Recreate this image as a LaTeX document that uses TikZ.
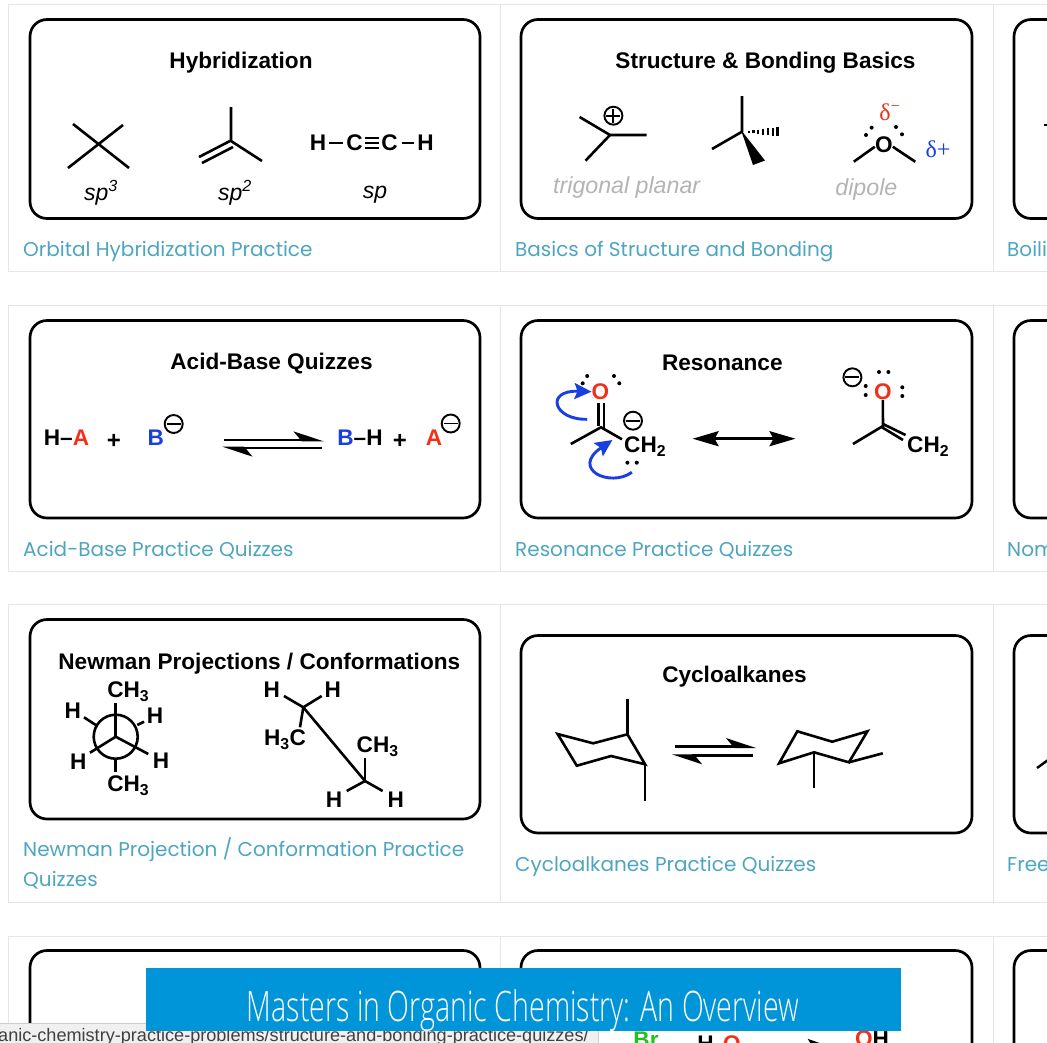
\documentclass[tikz,border=0pt]{standalone}
\usepackage{fontspec}
\setmainfont{Liberation Sans}
\newfontfamily\linkfont{Poppins}
\newfontfamily\greekfont{Liberation Serif}
\newfontfamily\bannerfont[FakeStretch=0.68]{Open Sans Light}
\usetikzlibrary{arrows.meta, positioning, calc}
\definecolor{cardline}{HTML}{E6E6E6}
\definecolor{linkblue}{HTML}{4DA5BF}
\definecolor{bannerblue}{HTML}{0094D8}
\definecolor{atomred}{HTML}{F0301A}
\definecolor{atomblue}{HTML}{1A3FE0}
\definecolor{atomgreen}{HTML}{22C020}
\definecolor{softgray}{HTML}{B4B4B4}
\tikzset{
  card/.style={draw=cardline, line width=0.9pt},
  quizbox/.style={draw=black, line width=2.7pt, rounded corners=17pt, fill=white},
  boxtitle/.style={font=\fontsize{22.6}{24}\selectfont\bfseries, inner sep=0},
  cardlink/.style={font=\linkfont\fontsize{20}{24}\selectfont, text=linkblue, anchor=base west, inner sep=0},
  atom/.style={font=\fontsize{22.6}{24}\selectfont\bfseries, inner sep=0},
  hybrid/.style={font=\fontsize{23}{24}\selectfont\itshape, inner sep=0},
  softtext/.style={font=\fontsize{23.2}{24}\selectfont\itshape, text=softgray, inner sep=0},
  bond/.style={line width=2.6pt},
  charge/.style={circle, draw=black, line width=1.9pt, minimum size=18pt, inner sep=0},
  chargebar/.style={line width=1.9pt},
  pairdot/.style={circle, fill=black, minimum size=4pt, inner sep=0},
  halfarrow/.style={line width=2.8pt, -{Stealth[harpoon, length=26pt, width=17pt, inset=7pt]}},
  pusharrow/.style={line width=2.9pt, draw=atomblue, -{Stealth[length=17pt, width=16pt, inset=3pt]}}
}
\begin{document}
\begin{tikzpicture}[x=1pt, y=-1pt]
\useasboundingbox (0,0) rectangle (1047,1042);
\clip (0,0) rectangle (1047,1042);

% Cards behind the boxes
\foreach \top/\bot in {4/271, 305/571, 604/902, 936/1100} {
  \draw[card] (1100,\top) -- (8,\top) -- (8,\bot) -- (1100,\bot);
  \draw[card] (500,\top) -- (500,\bot);
  \draw[card] (993,\top) -- (993,\bot);
}

% Rounded boxes
\foreach \xa/\xb in {30/480, 521/972, 1014/1465} {
  \draw[quizbox] (\xa,19.5) rectangle (\xb,218.5);
  \draw[quizbox] (\xa,320.5) rectangle (\xb,518);
  \draw[quizbox] (\xa,950.5) rectangle (\xb,1200);
}
\draw[quizbox] (30,619.5) rectangle (480,819);
\draw[quizbox] (521,635.5) rectangle (972,833);
\draw[quizbox] (1014,635.5) rectangle (1465,833);

% Titles
\node[boxtitle] (hybtitle) at (241,63) {Hybridization};
\node[boxtitle] (basictitle) at (765.5,63) {Structure \& Bonding Basics};
\node[boxtitle] (acidtitle) at (271.5,363.5) {Acid-Base Quizzes};
\node[boxtitle] (restitle) at (722.3,362.5) {Resonance};
\node[boxtitle] (newtitle) at (259.3,663.2) {Newman Projections / Conformations};
\node[boxtitle] (cyctitle) at (734.5,676.5) {Cycloalkanes};

% Links under the boxes
\node[cardlink] (hyblink) at (23,256) {Orbital Hybridization Practice};
\node[cardlink] (basiclink) at (515,256) {Basics of Structure and Bonding};
\node[cardlink] (boillink) at (1007,256) {Boili};
\node[cardlink] (acidlink) at (23,556) {Acid-Base Practice Quizzes};
\node[cardlink] (reslink) at (515,556) {Resonance Practice Quizzes};
\node[cardlink] (nomlink) at (1007,556) {Nom};
\node[cardlink] (newlink) at (23,856) {Newman Projection / Conformation Practice};
\node[cardlink] (newlinkb) at (23,886) {Quizzes};
\node[cardlink] (cyclink) at (515,871.5) {Cycloalkanes Practice Quizzes};
\node[cardlink] (freelink) at (1007,871.5) {Free};

% Hybridization
\draw[bond] (73,124) -- (129,168);
\draw[bond] (123,125) -- (68,168);
\draw[bond] (231,107) -- (231,141) -- (262,161);
\draw[bond] (230,141) -- (199,157);
\draw[bond] (233,147) -- (202,163);
\node[atom] (ha) at (318,143) {H};
\node[atom] (ca) at (354.5,143) {C};
\node[atom] (cb) at (389.5,143) {C};
\node[atom] (hb) at (425.5,143) {H};
\draw[bond] (ha.east) ++(3,0) -- ($(ca.west)+(-3,0)$);
\draw[bond] (cb.east) ++(4,0) -- ($(hb.west)+(-3,0)$);
\foreach \d in {-5,0,5}
  \draw[line width=2.2pt] ($(ca.east)+(2.5,\d)$) -- ($(cb.west)+(-2.5,\d)$);
\node[hybrid] (spthree) at (101,193) {sp\textsuperscript{3}};
\node[hybrid] (sptwo) at (235,193) {sp\textsuperscript{2}};
\node[hybrid] (spone) at (375,195) {sp};

% Structure and bonding
\draw[bond] (579.6,117) -- (610,135) -- (646.5,135);
\draw[bond] (610,135) -- (585.5,160.7);
\node[charge] (plus) at (613.4,115.7) {};
\draw[chargebar] (plus.west) ++(3,0) -- ($(plus.east)+(-3,0)$);
\draw[chargebar] (plus.north) ++(0,3) -- ($(plus.south)+(0,-3)$);
\node[softtext] (planar) at (626.7,187.5) {trigonal planar};
\draw[bond] (742,96) -- (742,131.7) -- (712,149);
\fill (741,130) -- (765,160.5) -- (753,165) -- cycle;
\foreach \x/\h in {749/1, 753.5/1.5, 758/2, 763/3, 768/3.5, 773/4, 777.5/4.5}
  \draw[line width=2.2pt] (\x,131.7-\h) -- (\x,131.7+\h);
\node[atom] (oxa) at (883.8,144.3) {O};
\draw[bond] (853.8,161.7) -- (oxa.195);
\draw[bond] (915.2,161.7) -- (oxa.-15);
\foreach \x/\y in {871.6/127.7, 866/135, 896/127, 902/134.3}
  \node[pairdot] at (\x,\y) {};
\node[font=\greekfont\fontsize{24}{24}\selectfont, text=atomred, inner sep=0] (delneg) at (890,112) {δ\textsuperscript{−}};
\node[font=\greekfont\fontsize{24}{24}\selectfont, text=atomblue, inner sep=0] (delpos) at (938,149) {δ+};
\node[softtext] (dipole) at (866.4,189.5) {dipole};
\draw[line width=2.4pt] (1044,125) -- (1048,125);

% Acid and base
\node[atom] (hacid) at (66.5,438) {H--\textcolor{atomred}{A}};
\node[atom, font=\fontsize{24}{24}\selectfont\bfseries] (plusa) at (114,441) {+};
\node[atom, text=atomblue] (base) at (155.7,438) {B};
\node[charge] (baseq) at (173.7,424) {};
\draw[chargebar] (baseq.west) ++(3,0) -- ($(baseq.east)+(-3,0)$);
\coordinate (aone) at (224,440);
\coordinate (atwo) at (324,440);
\coordinate (athree) at (322,448);
\coordinate (afour) at (222,448);
\draw[halfarrow] (aone) -- (atwo);
\draw[halfarrow] (athree) -- (afour);
\node[atom] (bh) at (360,438) {\textcolor{atomblue}{B}--H};
\node[atom, font=\fontsize{24}{24}\selectfont\bfseries] (plusb) at (400,441) {+};
\node[atom, text=atomred] (anion) at (434,438) {A};
\node[charge] (anionq) at (450.7,423.5) {};
\draw[chargebar] (anionq.west) ++(3,0) -- ($(anionq.east)+(-3,0)$);

% Resonance
\node[atom, text=atomred] (oxb) at (600.5,391.7) {O};
\draw[bond] (598.2,403) -- (598.2,426);
\draw[bond] (604,403) -- (604,428);
\draw[bond] (570.8,444) -- (601,427.3) -- (622,439.3);
\node[atom, anchor=west] (chb) at (624,447) {CH\textsubscript{2}};
\node[charge] (minb) at (633,420.7) {};
\draw[chargebar] (minb.west) ++(3,0) -- ($(minb.east)+(-3,0)$);
\foreach \x/\y in {587.2/376, 582.7/383.3, 614/376, 619.3/383.3, 627.4/462.7, 636.8/462.7}
  \node[pairdot] at (\x,\y) {};
\coordinate (pushatip) at (591.5,391.7);
\draw[pusharrow] (587.2,419.3) .. controls (553,420) and (545,390) .. (pushatip);
\coordinate (pushbtip) at (612.4,440);
\draw[pusharrow] (631.9,472.3) .. controls (610,488) and (570,469) .. (pushbtip);
\coordinate (resa) at (692.6,438.7);
\coordinate (resb) at (795.5,438.7);
\draw[line width=2.6pt, {Stealth[length=26pt, width=15pt, inset=4pt]}-{Stealth[length=26pt, width=15pt, inset=4pt]}] (resa) -- (resb);
\node[atom, text=atomred] (oxc) at (882.8,391.7) {O};
\draw[bond] (oxc.south) -- (883,426) -- (853,444);
\draw[bond] (883,424) -- (905.5,435);
\draw[bond] (882,427.3) -- (903,440);
\node[atom, anchor=west] (chc) at (907,447) {CH\textsubscript{2}};
\node[charge] (minc) at (852.4,377.3) {};
\draw[chargebar] (minc.west) ++(3,0) -- ($(minc.east)+(-3,0)$);
\foreach \x/\y in {879/372, 888.4/372, 865.7/386, 865.7/395, 902.3/387.3, 902.3/396}
  \node[pairdot] at (\x,\y) {};

% Newman projection
\node[atom] (nmethyla) at (128.3,691.7) {CH\textsubscript{3}};
\node[atom] (nmethylb) at (128.3,785.7) {CH\textsubscript{3}};
\node[atom] (nha) at (72.7,711) {H};
\node[atom] (nhb) at (155,715.7) {H};
\node[atom] (nhc) at (78.3,761.7) {H};
\node[atom] (nhd) at (161,761) {H};
\node[circle, draw=black, line width=2.6pt, minimum size=44pt, inner sep=0] (front) at (115.7,736.7) {};
\draw[bond] (115.7,702.7) -- (front.center);
\draw[bond] (front.center) -- (90,752.7);
\draw[bond] (front.center) -- (148.3,754);
\draw[bond] (84,717.3) -- (97.3,726);
\draw[bond] (137.3,725) -- (144,721.7);
\draw[bond] (115.7,759.3) -- (115.7,771.7);

% Sawhorse
\coordinate (sawa) at (303.3,707.3);
\coordinate (sawb) at (365,781);
\node[atom] (sha) at (271.7,689.3) {H};
\node[atom] (shb) at (332.7,689.3) {H};
\node[atom] (shc) at (285,740) {H\textsubscript{3}C};
\node[atom] (shd) at (377.7,746.7) {CH\textsubscript{3}};
\node[atom] (she) at (334,799.3) {H};
\node[atom] (shf) at (395.7,799.3) {H};
\draw[bond] (sawa) -- (sawb);
\draw[bond] (284,696) -- (sawa) -- (321.7,696);
\draw[bond] (sawa) -- (300,727.3);
\draw[bond] (365,758.3) -- (sawb);
\draw[bond] (346.7,791) -- (sawb) -- (382.7,791);

% Cycloalkanes
\draw[bond] (557.6,734) -- (593.2,743.3) -- (627.4,734.3) -- (645.1,764.3) -- (611,756) -- (576.8,765.7) -- cycle;
\draw[bond] (627.4,734.3) -- (627.4,699.3);
\draw[bond] (645.1,764.3) -- (645.1,800.7);
\coordinate (cyca) at (675.2,746.7);
\coordinate (cycb) at (756.5,746.7);
\coordinate (cycc) at (753,755.7);
\coordinate (cycd) at (671.7,755.7);
\draw[halfarrow] (cyca) -- (cycb);
\draw[halfarrow] (cycc) -- (cycd);
\draw[bond] (779.1,763.3) -- (797.3,731.3) -- (832.2,741.7) -- (867.4,731.3) -- (848.9,762.3) -- (814,752.3) -- cycle;
\draw[bond] (814,752.3) -- (814,788.3);
\draw[bond] (848.9,762.3) -- (882.8,753.3);
\draw[line width=2.4pt] (1037,768) -- (1048,760);

% Last row, cut off by the window
\node[atom, text=atomgreen] (brom) at (646,1040) {Br};
\node[atom] (lasth) at (719,1046) {H\textsubscript{2}\textcolor{atomred}{O}};
\node[atom] (lastoh) at (872,1039) {\textcolor{atomred}{O}H};
\coordinate (lasta) at (775,1046);
\coordinate (lastb) at (828,1046);
\draw[line width=2.6pt, -{Stealth[length=20pt, width=14pt, inset=4pt]}] (lasta) -- (lastb);

% Status bar and banner
\fill[black!6] (-1,1023.5) rectangle (598,1043);
\draw[black!20, line width=0.8pt] (-1,1023.5) -- (598,1023.5) -- (598,1043);
\node[font=\fontsize{18.1}{18}\selectfont, text=black!75, anchor=base west, inner sep=0] (urlbar) at (-2,1041.5) {anic-chemistry-practice-problems/structure-and-bonding-practice-quizzes/};
\fill[bannerblue] (146,968) rectangle (901,1031);
\node[font=\bannerfont\fontsize{42}{44}\selectfont, text=white, anchor=base, inner sep=0] (banner) at (523,1021.7) {Masters in Organic Chemistry: An Overview};
\end{tikzpicture}
\end{document}
